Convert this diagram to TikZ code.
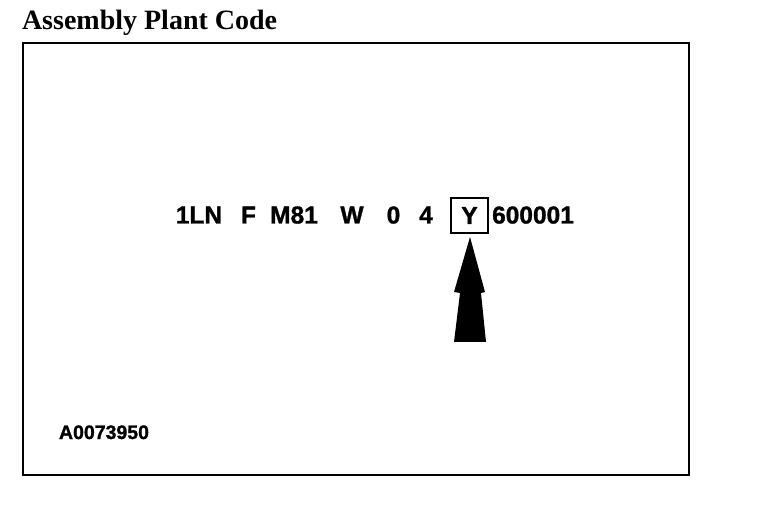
\documentclass[tikz,border=0pt]{standalone}
\usepackage{fontspec}
\setmainfont{Liberation Serif}
\newfontfamily\vinfont[FakeBold=1.2]{Liberation Sans}
\begin{document}
\begin{tikzpicture}[x=1pt,y=-1pt,line width=2pt,
  vin/.style={font=\vinfont\bfseries\fontsize{24.5}{24.5}\selectfont,inner sep=0pt,anchor=base}]
\useasboundingbox (0,0) rectangle (768,510);
\node[font=\bfseries\fontsize{28}{28}\selectfont,inner sep=0pt,anchor=base west] (title) at (21,30) {Assembly Plant Code};
\draw (22.5,42.8) rectangle (688.5,475);
\node[vin] (wmi) at (199,223.5) {1LN};\node[vin] (rs) at (248.5,223.5) {F};\node[vin] (model) at (294,223.5) {M81};
\node[vin] (eng) at (352,223.5) {W};\node[vin] (chk) at (393.5,223.5) {0};\node[vin] (yr) at (426,223.5) {4};
\node[vin,anchor=center,draw,minimum width=37pt,minimum height=35pt] (plant) at (469.5,215.5) {Y};
\node[vin] (serial) at (533,223.5) {600001};
\fill (470,237)--(485,292)--(481,293)--(486,342)--(454,342)--(460,293)--(454,292)--cycle;
\node[vin,anchor=base west,font=\vinfont\bfseries\fontsize{19.5}{19.5}\selectfont] (fig) at (58,439) {A0073950};
\end{tikzpicture}
\end{document}
